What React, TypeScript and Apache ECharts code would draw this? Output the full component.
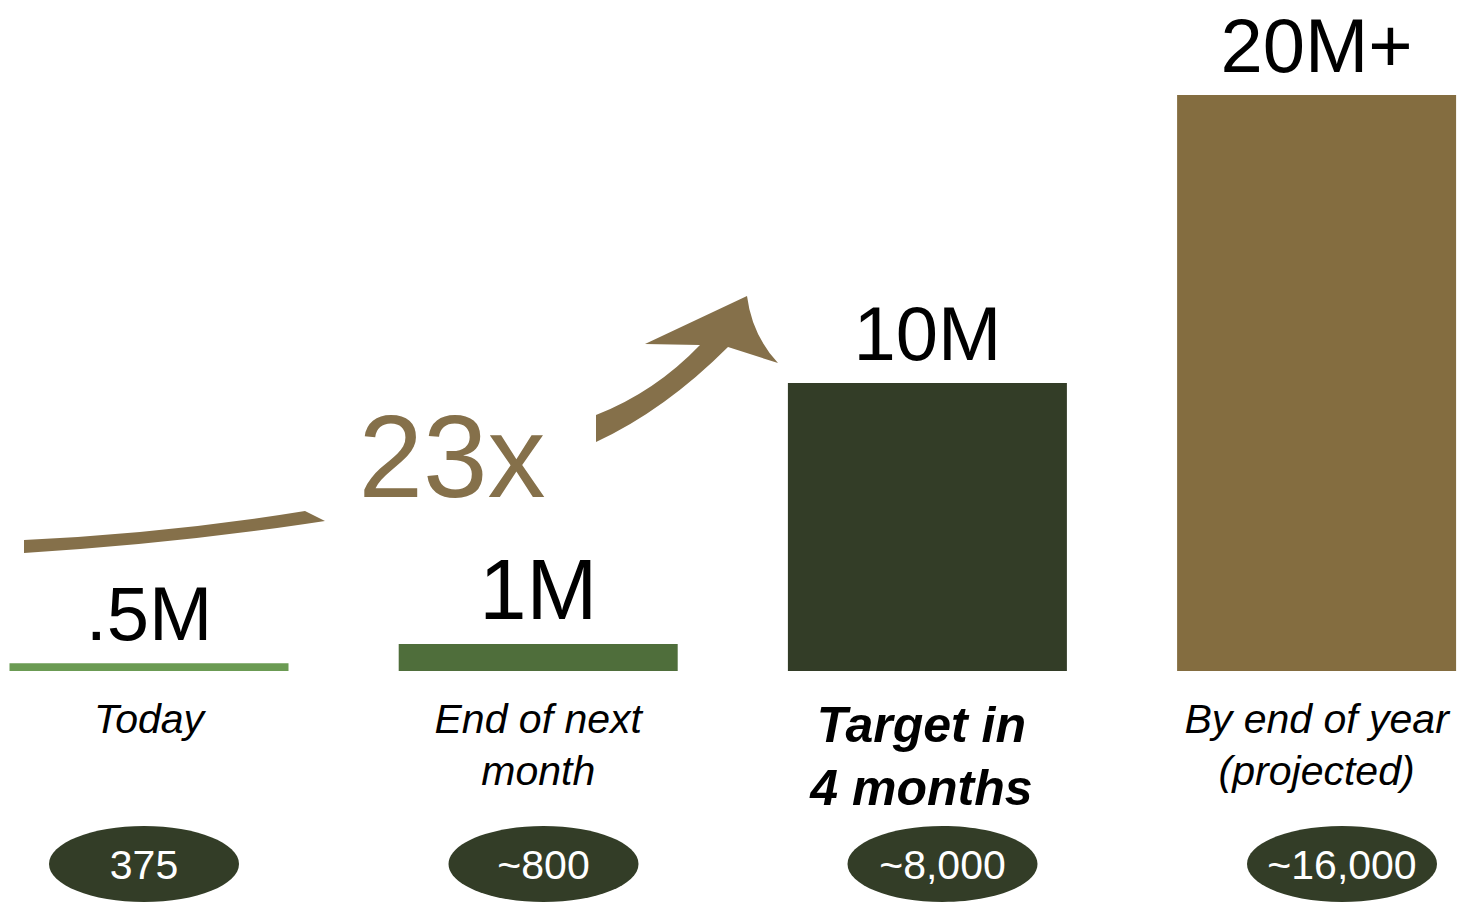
import React, { useEffect, useRef } from "react";
import * as echarts from "echarts";

const categories = ["Today", "End of next\nmonth", "Target in\n4 months", "By end of year\n(projected)"];
const valuesM = [0.27, 0.94, 10, 20];
const valueLabels = [".5M", "1M", "10M", "20M+"];
const counts = ["375", "~800", "~8,000", "~16,000"];
const growthLabel = "23x";
const highlightIndex = 2;

const barColors = ["#6b9b53", "#4f6e3b", "#333d27", "#846d40"];
const labelSizes = [76, 85, 76, 76];
const FONT = '"Liberation Sans", Arial, Helvetica, sans-serif';

const ARROW_D =
  "M24 540 Q170 533 305 511 L325 521 L305 524 Q170 544 24 553 Z " +
  "M596 415 Q655 392 700 345 L645 344 L747 296 Q752 335 778 363 L728 347 Q665 410 596 442 Z";

let registered = false;
function ensureShape() {
  if (registered) return;
  echarts.graphic.registerShape("growthArrow", echarts.graphic.extendPath(ARROW_D, {}) as any);
  registered = true;
}

const ellipseX = [144, 543.5, 942.5, 1342];
const ellipseY = 864;

export default function App() {
  const ref = useRef<HTMLDivElement>(null);
  useEffect(() => {
    if (!ref.current) return;
    ensureShape();
    const chart = echarts.init(ref.current, undefined, { renderer: "svg" });
    const graphics: any[] = [
      {
        type: "growthArrow",
        x: 0,
        y: 0,
        scaleX: 1,
        scaleY: 1,
        style: { fill: "#85704a" },
        z: 10,
      },
      {
        type: "text",
        x: 452,
        y: 457,
        z: 11,
        style: {
          text: growthLabel,
          fill: "#85704a",
          font: `116px ${FONT}`,
          textAlign: "center",
          textVerticalAlign: "middle",
        },
      },
    ];
    counts.forEach((c, i) => {
      graphics.push({
        type: "ellipse",
        shape: { cx: ellipseX[i], cy: ellipseY, rx: 95, ry: 38 },
        style: { fill: "#333d27" },
        z: 10,
      });
      graphics.push({
        type: "text",
        x: ellipseX[i],
        y: ellipseY + 1,
        z: 11,
        style: {
          text: c,
          fill: "#ffffff",
          font: `41px ${FONT}`,
          textAlign: "center",
          textVerticalAlign: "middle",
        },
      });
    });

    chart.setOption({
      animation: false,
      backgroundColor: "#ffffff",
      grid: {
        left: -45.6,
        right: -51.2,
        top: 95,
        bottom: 231,
        containLabel: false,
        outerBoundsMode: "none",
      } as any,
      xAxis: {
        type: "category",
        data: categories,
        axisLine: { show: false },
        axisTick: { show: false },
        splitLine: { show: false },
        axisLabel: {
          interval: 0,
          margin: 22,
          verticalAlign: "top",
          formatter: (v: string, i: number) => (i === highlightIndex ? `{b|${v}}` : `{n|${v}}`),
          rich: {
            n: {
              fontFamily: FONT,
              fontSize: 41,
              fontStyle: "italic",
              lineHeight: 52,
              color: "#000000",
              align: "center",
            },
            b: {
              fontFamily: FONT,
              fontSize: 50,
              fontStyle: "italic",
              fontWeight: "bold",
              lineHeight: 63,
              color: "#000000",
              align: "center",
              padding: [0, 12, 0, 0],
            },
          },
        },
      },
      yAxis: {
        type: "value",
        min: 0,
        max: 20,
        show: false,
        splitLine: { show: false },
      },
      series: [
        {
          type: "bar",
          barWidth: 279,
          data: valuesM.map((v, i) => ({
            value: v,
            itemStyle: { color: barColors[i] },
            label: { fontSize: labelSizes[i], lineHeight: labelSizes[i] },
          })),
          label: {
            show: true,
            position: "top",
            distance: 12,
            formatter: (p: any) => valueLabels[p.dataIndex],
            fontFamily: FONT,
            fontSize: 76,
            lineHeight: 76,
            color: "#000000",
          },
        },
      ],
      graphic: graphics,
    });
    return () => chart.dispose();
  }, []);
  return (
    <div
      ref={ref}
      style={{ position: "fixed", left: 0, top: 0, width: 1460, height: 902, background: "#fff" }}
    />
  );
}
